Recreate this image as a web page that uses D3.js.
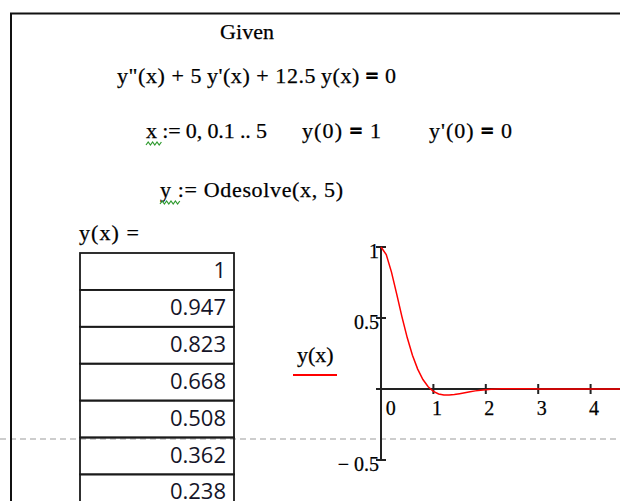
<!DOCTYPE html>
<html>
<head>
<meta charset="utf-8">
<script src="https://cdn.jsdelivr.net/npm/d3@7"></script>
<style>
  html, body { margin: 0; padding: 0; background: #fff; overflow: hidden; }
  svg { display: block; }
  text { font-family: "Liberation Serif", "Times New Roman", serif; fill: #000; }
  .math { stroke: #000; stroke-width: 0.25px; }
  .beq { font-weight: bold; stroke: #000; stroke-width: 1px; }
</style>
</head>
<body>
<svg id="sheet" width="620" height="501"></svg>
<script>
// Solution of y'' + 5y' + 12.5y = 0, y(0)=1, y'(0)=0, sampled at x = 0, 0.1 .. 5
const xs = [0, 0.1, 0.2, 0.3, 0.4, 0.5, 0.6, 0.7, 0.8, 0.9,
            1, 1.1, 1.2, 1.3, 1.4, 1.5, 1.6, 1.7, 1.8, 1.9,
            2, 2.1, 2.2, 2.3, 2.4, 2.5, 2.6, 2.7, 2.8, 2.9,
            3, 3.1, 3.2, 3.3, 3.4, 3.5, 3.6, 3.7, 3.8, 3.9,
            4, 4.1, 4.2, 4.3, 4.4, 4.5, 4.6, 4.7, 4.8, 4.9, 5];
const ys = [1, 0.9473, 0.8231, 0.6676, 0.5083, 0.3622, 0.2384, 0.1400, 0.0667, 0.0158,
            -0.0166, -0.0347, -0.0423, -0.0428, -0.0389, -0.0327, -0.0258, -0.0191, -0.0132, -0.0083,
            -0.0046, -0.0018, 0.0000, 0.0011, 0.0017, 0.0019, 0.0018, 0.0016, 0.0013, 0.0010,
            0.0007, 0.0005, 0.0003, 0.0001, 0, 0, 0, 0, 0, 0,
            0, 0, 0, 0, 0, 0, 0, 0, 0, 0, 0];

const xTicks = [0, 1, 2, 3, 4];
const yTicks = [1, 0.5, 0, -0.5];
const yTickLabels = ["1", "0.5", "", "\u2212 0.5"];
const tableRowCount = 7;

const svg = d3.select("#sheet");

// page-break marker
svg.append("line")
  .attr("x1", 0).attr("x2", 620).attr("y1", 439).attr("y2", 439)
  .attr("stroke", "#bdbdbd").attr("stroke-width", 1.5)
  .attr("stroke-dasharray", "6,4");

// worksheet region frame
svg.append("path")
  .attr("d", "M11,501 L11,13.5 L620,13.5")
  .attr("fill", "none").attr("stroke", "#111").attr("stroke-width", 2);

// ---- math statements ----
function statement(x, y, width, parts, size) {
  const t = svg.append("text")
    .attr("class", "math")
    .attr("x", x).attr("y", y)
    .style("font-size", (size || 22) + "px")
    .attr("textLength", width).attr("lengthAdjust", "spacing");
  parts.forEach(p => {
    const s = t.append("tspan").text(p.t);
    if (p.b) s.attr("class", "beq");
  });
  return t;
}
function squiggle(x0, x1, y) {
  const pts = [];
  for (let x = x0, k = 0; x <= x1; x += 2.2, k++) pts.push([x, y + (k % 2 ? 0 : 3)]);
  svg.append("path").attr("d", d3.line()(pts))
    .attr("fill", "none").attr("stroke", "#2f9a2f").attr("stroke-width", 1.2);
}

statement(220, 39, 54, [{t: "Given"}]);
statement(117, 83, 279, [{t: "y\"(x) + 5\u2009y'(x) + 12.5\u2009y(x) "}, {t: "=", b: true}, {t: " 0"}]);
statement(146, 138, 121, [{t: "x := 0, 0.1 .. 5"}]);
squiggle(146, 162, 142);
statement(302, 138, 79, [{t: "y(0) "}, {t: "=", b: true}, {t: " 1"}]);
statement(429, 138, 83, [{t: "y'(0) "}, {t: "=", b: true}, {t: " 0"}]);
statement(160, 197, 183, [{t: "y := Odesolve(x, 5)"}]);
squiggle(160, 180, 201);
statement(79, 240, 60, [{t: "y(x) ="}]);

// ---- result table ----
const rowH = 36.9, tX0 = 80, tX1 = 234, tY0 = 253;
const fmt = d3.format(".3~f");
const rows = svg.append("g");
d3.range(tableRowCount).forEach(i => {
  rows.append("rect")
    .attr("x", tX0).attr("y", tY0 + i * rowH)
    .attr("width", tX1 - tX0).attr("height", rowH)
    .attr("fill", "none").attr("stroke", "#1a1a1a").attr("stroke-width", 1.8);
  rows.append("text")
    .attr("x", 226).attr("y", tY0 + i * rowH + 25)
    .attr("text-anchor", "end")
    .style("font-family", "'Open Sans', 'Noto Sans', sans-serif")
    .style("font-size", "22px")
    .style("fill", "#141428")
    .text(fmt(ys[i]));
});

// ---- plot ----
const xScale = d3.scaleLinear().domain([0, 5]).range([381, 643]);
const yScale = d3.scaleLinear().domain([-0.5, 1]).range([460, 247]);
const axisColor = "#222";
const plot = svg.append("g");

// y axis line and ticks
plot.append("line")
  .attr("x1", xScale(0)).attr("x2", xScale(0))
  .attr("y1", yScale(1)).attr("y2", yScale(-0.5))
  .attr("stroke", axisColor).attr("stroke-width", 2);
yTicks.forEach((v, i) => {
  plot.append("line")
    .attr("x1", xScale(0) - 5).attr("x2", xScale(0) + 5)
    .attr("y1", yScale(v)).attr("y2", yScale(v))
    .attr("stroke", axisColor).attr("stroke-width", 2);
  if (yTickLabels[i]) {
    plot.append("text")
      .attr("class", "math")
      .attr("x", xScale(0) - 2).attr("y", yScale(v) + 10.5)
      .attr("text-anchor", "end")
      .style("font-size", "20px")
      .text(yTickLabels[i]);
  }
});

// x axis line and ticks
plot.append("line")
  .attr("x1", xScale(0)).attr("x2", xScale(5))
  .attr("y1", yScale(0)).attr("y2", yScale(0))
  .attr("stroke", axisColor).attr("stroke-width", 2);
xTicks.forEach(v => {
  plot.append("line")
    .attr("x1", xScale(v)).attr("x2", xScale(v))
    .attr("y1", yScale(0) - 5).attr("y2", yScale(0) + 5)
    .attr("stroke", axisColor).attr("stroke-width", 2);
  plot.append("text")
    .attr("class", "math")
    .attr("x", xScale(v) + (v === 0 ? 9.7 : 3.5)).attr("y", yScale(0) + 26)
    .attr("text-anchor", "middle")
    .style("font-size", "20px")
    .text(v);
});

// trace
const line = d3.line().x((d, i) => xScale(xs[i])).y(d => yScale(d));
plot.append("path")
  .datum(ys)
  .attr("d", line)
  .attr("fill", "none").attr("stroke", "#ff0000").attr("stroke-width", 1.5);

// trace label
svg.append("text").attr("class", "math").attr("x", 297).attr("y", 362).style("font-size", "22px").text("y(x)");
svg.append("line")
  .attr("x1", 293).attr("x2", 337).attr("y1", 375).attr("y2", 375)
  .attr("stroke", "#ff0000").attr("stroke-width", 2);
</script>
</body>
</html>
